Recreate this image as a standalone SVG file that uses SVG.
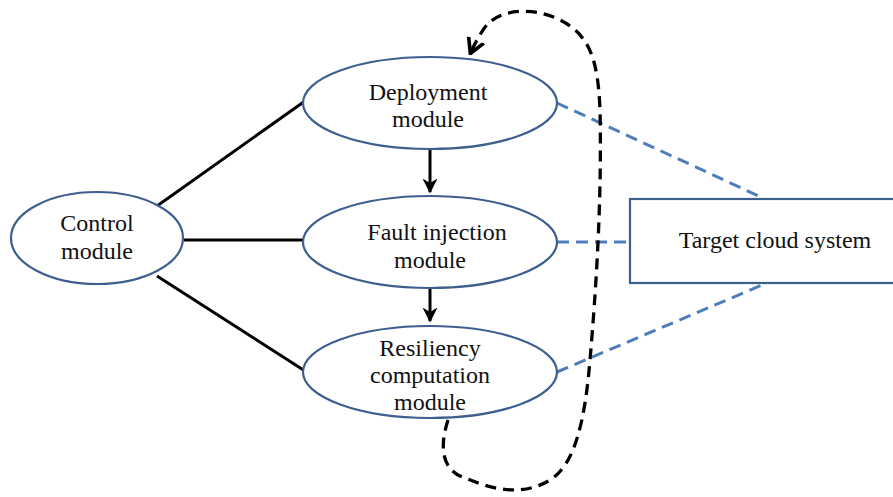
<svg xmlns="http://www.w3.org/2000/svg" width="893" height="497" viewBox="0 0 893 497">
<defs>
<style>
.node{fill:#fff;stroke:#3d5f8f;stroke-width:2.2}
.t{font-family:"Liberation Serif","Times New Roman",serif;font-size:24px;fill:#111;text-anchor:middle}
.solid{stroke:#000;stroke-width:3;fill:none}
.blue{stroke:#4f7dbb;stroke-width:3;stroke-dasharray:12,7;fill:none}
.loop{stroke:#000;stroke-width:3.3;stroke-dasharray:11,7;fill:none}
</style>
<marker id="ah" viewBox="0 0 10 10" refX="9" refY="5" markerWidth="5" markerHeight="5" orient="auto">
<path d="M0,0 L10,5 L0,10 L3,5 z" fill="#000"/>
</marker>
<marker id="ah2" viewBox="0 0 10 10" refX="8" refY="5" markerWidth="5" markerHeight="6" orient="auto">
<path d="M0,0 L9,5 L0,10" fill="none" stroke="#000" stroke-width="2.2"/>
</marker>
</defs>
<g id="connectors">
<line class="solid" x1="157" y1="206" x2="305" y2="101"/>
<line class="solid" x1="184" y1="240" x2="305" y2="240"/>
<line class="solid" x1="157" y1="276" x2="305" y2="371"/>
<line class="solid" x1="430" y1="149" x2="430" y2="192" marker-end="url(#ah)"/>
<line class="solid" x1="430" y1="288" x2="430" y2="321" marker-end="url(#ah)"/>
<line class="blue" x1="557" y1="103" x2="763" y2="198"/>
<line class="blue" x1="557" y1="242" x2="630" y2="242"/>
<line class="blue" x1="557" y1="372" x2="762" y2="285"/>
<path class="loop" d="M448,420 C440,445 440,470 465,478 C490,488 520,498 550,480 C575,465 585,420 590,360 C596,290 602,200 600,110 C598,60 590,35 560,20 C530,5 495,10 483,30 C478,38 474,45 471,52" marker-end="url(#ah2)"/>
</g>
<g id="control"><ellipse class="node" cx="97" cy="238" rx="86" ry="46"/><text class="t" x="97" y="231">Control</text><text class="t" x="97" y="259">module</text></g>
<g id="deployment"><ellipse class="node" cx="430" cy="103" rx="127" ry="46"/><text class="t" x="428" y="100">Deployment</text><text class="t" x="428" y="127">module</text></g>
<g id="fault"><ellipse class="node" cx="430" cy="242" rx="127" ry="46"/><text class="t" x="437" y="240">Fault injection</text><text class="t" x="430" y="268">module</text></g>
<g id="resiliency"><ellipse class="node" cx="430" cy="372" rx="127" ry="46"/><text class="t" x="430" y="356">Resiliency</text><text class="t" x="430" y="383">computation</text><text class="t" x="430" y="410">module</text></g>
<g id="target"><rect class="node" x="630" y="199" width="280" height="84"/><text class="t" x="775" y="248">Target cloud system</text></g>
</svg>
